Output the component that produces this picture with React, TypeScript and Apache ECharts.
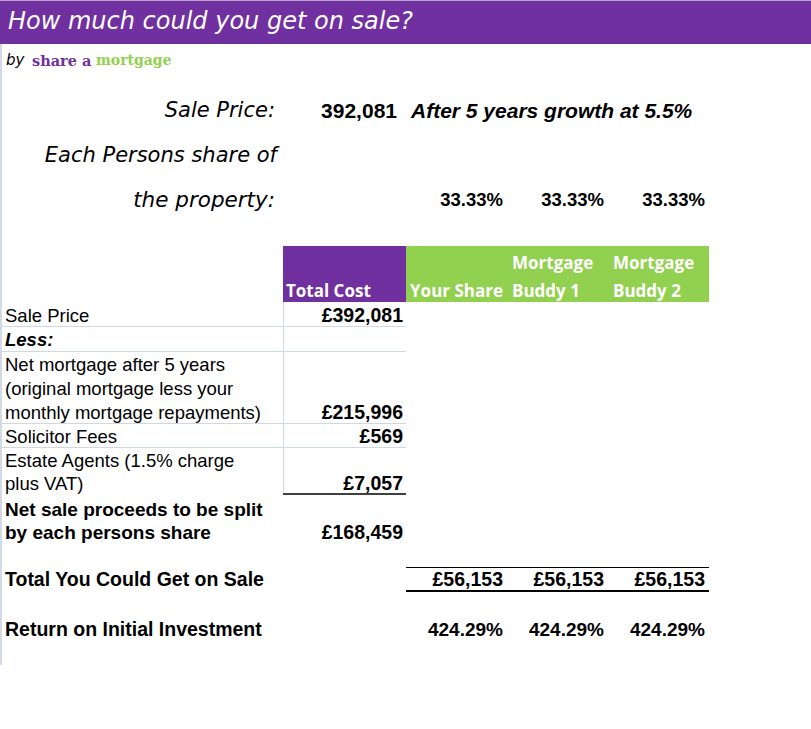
import React, { useEffect, useRef } from "react";
import * as echarts from "echarts";

const titleText = "How much could you get on sale?";
const salePrice = "392,081";
const growthNote = "After 5 years growth at 5.5%";
const shareLabels = ["Each Persons share of", "the property:"];
const shares = ["33.33%", "33.33%", "33.33%"];
const headerCols = [["", "Total Cost"], ["", "Your Share"], ["Mortgage", "Buddy 1"], ["Mortgage", "Buddy 2"]];
const rowLabels = [
  "Sale Price",
  "Less:",
  "Net mortgage after 5 years",
  "(original mortgage less your",
  "monthly mortgage repayments)",
  "Solicitor Fees",
  "Estate Agents (1.5% charge",
  "plus VAT)",
  "Net sale proceeds to be split",
  "by each persons share",
];
const rowValues = ["£392,081", "", "", "", "£215,996", "£569", "", "£7,057", "", "£168,459"];
const totalLabel = "Total You Could Get on Sale";
const totals = ["£56,153", "£56,153", "£56,153"];
const returnLabel = "Return on Initial Investment";
const returns = ["424.29%", "424.29%", "424.29%"];

const PURPLE = "#7030A0";
const GREEN = "#92D050";
const GRID = "#d0d7e5";
const ARIAL = "'Liberation Sans', Arial, sans-serif";
const SCRIPT = "'DejaVu Sans', sans-serif";

export default function App() {
  const ref = useRef<HTMLDivElement>(null);
  useEffect(() => {
    document.body.style.margin = "0";
    const chart = echarts.init(ref.current!, null, { renderer: "svg" });
    const g: any[] = [];
    const text = (t: string, x: number, y: number, font: string, fill = "#000", align = "left") =>
      g.push({ type: "text", x, y, silent: true, style: { text: t, font, fill, align, verticalAlign: "middle" } });
    const line = (x1: number, y1: number, x2: number, y2: number, stroke: string, w = 1) =>
      g.push({ type: "line", silent: true, shape: { x1, y1, x2, y2 }, style: { stroke, lineWidth: w } });
    const rect = (x: number, y: number, w: number, h: number, fill: string) =>
      g.push({ type: "rect", silent: true, shape: { x, y, width: w, height: h }, style: { fill } });

    // header bar
    rect(0, 0, 811, 44, PURPLE);
    line(0, 0.5, 811, 0.5, "#b9a3cc");
    text(titleText, 8, 21, `italic 24px ${SCRIPT}`, "#fff");
    line(1, 44, 1, 665, "#c5cede", 1.5);
    text("by", 6, 60, `italic 15px ${SCRIPT}`);
    text("share a", 32, 60, `bold 14.5px 'DejaVu Serif', serif`, PURPLE);
    text("mortgage", 96, 60, `bold 14px 'DejaVu Serif', serif`, GREEN);

    // sale price block
    text("Sale Price:", 275, 110, `italic 21px ${SCRIPT}`, "#000", "right");
    text(salePrice, 397, 110, `bold 21px ${ARIAL}`, "#000", "right");
    text(growthNote, 411, 110, `italic bold 21px ${ARIAL}`);
    text(shareLabels[0], 277, 155, `italic 21px ${SCRIPT}`, "#000", "right");
    text(shareLabels[1], 275, 199, `italic 21.5px ${SCRIPT}`, "#000", "right");
    const colRight = [403, 503, 604, 705];
    shares.forEach((s, i) => text(s, colRight[i + 1], 199, `bold 18.5px ${ARIAL}`, "#000", "right"));

    // table header
    rect(283, 246, 123, 56, PURPLE);
    rect(406, 246, 303, 56, GREEN);
    const colLeft = [286, 410, 512, 613];
    headerCols.forEach((h, i) => {
      if (h[0]) text(h[0], colLeft[i], 262, `bold 17px 'Open Sans', sans-serif`, "#fff");
      text(h[1], colLeft[i], 290, `bold 17px 'Open Sans', sans-serif`, "#fff");
    });

    // grid lines
    [326, 351, 423, 447].forEach((y) => line(0, y + 0.5, 406, y + 0.5, GRID));
    line(283.5, 302, 283.5, 492, GRID);
    line(283, 494, 406, 494, "#000", 1.5);

    const rowY = [315, 339, 364, 388, 412, 436, 460, 483, 509, 532];
    rowLabels.forEach((l, i) => {
      let font = `18.5px ${ARIAL}`;
      if (i === 1) font = `italic bold 18.5px ${ARIAL}`;
      if (i >= 8) font = `bold 19px ${ARIAL}`;
      text(l, 5, rowY[i], font);
      if (rowValues[i]) text(rowValues[i], 403, rowY[i], `bold 19.5px ${ARIAL}`, "#000", "right");
    });

    // totals
    line(406, 567.5, 709, 567.5, "#000", 1);
    line(406, 591, 709, 591, "#000", 2);
    text(totalLabel, 5, 579, `bold 19.5px ${ARIAL}`);
    totals.forEach((t, i) => text(t, colRight[i + 1], 579, `bold 19.5px ${ARIAL}`, "#000", "right"));
    text(returnLabel, 5, 629, `bold 19.5px ${ARIAL}`);
    returns.forEach((t, i) => text(t, colRight[i + 1], 629, `bold 19px ${ARIAL}`, "#000", "right"));

    chart.setOption({ animation: false, graphic: { elements: g } });
    return () => chart.dispose();
  }, []);
  return <div ref={ref} style={{ width: 811, height: 729, background: "#fff" }} />;
}
